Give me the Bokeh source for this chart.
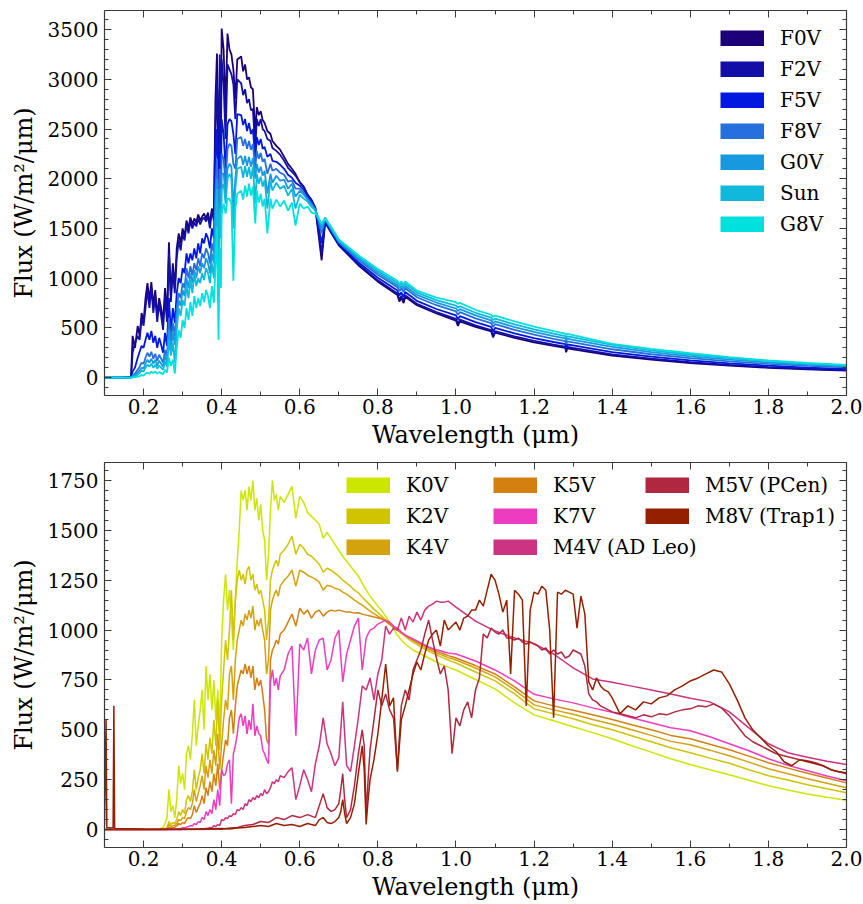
from bokeh.plotting import figure
from bokeh.models import (Range1d, LinearAxis, FixedTicker, PrintfTickFormatter,
                          Legend, LegendItem)
from bokeh.layouts import column
from bokeh.embed import file_html
from bokeh.resources import INLINE

FONT = "DejaVu Serif"
AX_COLOR = "#3a3a3a"

# ---------------- tick definitions ----------------
x_major = [0.2, 0.4, 0.6, 0.8, 1.0, 1.2, 1.4, 1.6, 1.8, 2.0]
x_minor = [0.1, 0.2, 0.3, 0.4, 0.5, 0.6, 0.7, 0.8, 0.9, 1.0, 1.1, 1.2, 1.3, 1.4,
           1.5, 1.6, 1.7, 1.8, 1.9, 2.0]
top_y_major = [0, 500, 1000, 1500, 2000, 2500, 3000, 3500]
top_y_minor = list(range(-100, 3700, 100))
bot_y_major = [0, 250, 500, 750, 1000, 1250, 1500, 1750]
bot_y_minor = list(range(-50, 1850, 50))

# ---------------- top panel data (F and G stars) ----------------
top_names = ["F0V", "F2V", "F5V", "F8V", "G0V", "Sun", "G8V"]
top_colors = ["#1b0077", "#120ea6", "#0018e0", "#2670de", "#1898de", "#10b8dc", "#00e0dc"]

wl_top = [0.10, 0.15, 0.168, 0.172, 0.178, 0.185,
          0.19, 0.195, 0.20, 0.205, 0.21, 0.215, 0.22, 0.225, 0.23, 0.235,
          0.24, 0.245, 0.25, 0.255, 0.26, 0.265, 0.27, 0.275, 0.28, 0.285,
          0.29, 0.295, 0.30, 0.305, 0.31, 0.315, 0.32, 0.325, 0.33, 0.335,
          0.34, 0.345, 0.35, 0.355, 0.36, 0.365, 0.37, 0.375, 0.38,
          0.384, 0.388, 0.392, 0.395, 0.398, 0.40, 0.405, 0.41, 0.415, 0.42,
          0.425, 0.43, 0.435, 0.44, 0.45, 0.455, 0.46, 0.465, 0.47, 0.475,
          0.48, 0.486, 0.49, 0.495, 0.50, 0.505, 0.51, 0.517, 0.525, 0.53,
          0.54, 0.55, 0.56, 0.57, 0.58, 0.589, 0.60, 0.61, 0.62, 0.63,
          0.64, 0.656, 0.665, 0.68, 0.70,
          0.75, 0.80, 0.85, 0.855, 0.86, 0.866, 0.87, 0.90, 0.95, 1.00,
          1.005, 1.01, 1.05, 1.09, 1.095, 1.10, 1.15, 1.20, 1.25, 1.28,
          1.282, 1.285, 1.30, 1.40, 1.50, 1.60, 1.70, 1.80, 1.90, 2.00]

f0v = [0, 2, 10, 420, 300, 520,
       420, 650, 560, 800, 950, 780, 960, 720, 880, 620,
       800, 700, 560, 900, 620, 1360, 820, 1150, 900, 1300,
       1450, 1350, 1500, 1420, 1580, 1500, 1610, 1540, 1600, 1560,
       1640, 1580, 1620, 1650, 1600, 1660, 1550, 1700, 1620,
       2790, 3260, 2200, 2900, 2500, 3510, 3300, 2700, 3460, 3300,
       3250, 3100, 2800, 3200, 3230, 3080, 3150, 3000, 3020, 2920,
       2900, 2450, 2720, 2640, 2680, 2590, 2560, 2480, 2450, 2380,
       2330, 2290, 2220, 2150, 2100, 2050, 1960, 1920, 1830, 1780,
       1700, 1180, 1560, 1460, 1330,
       1130, 965, 830, 765, 805, 750, 812, 728, 645, 573,
       520, 566, 510, 466, 405, 452, 400, 355, 318, 298,
       255, 294, 285, 222, 180, 146, 120, 99, 83, 70]
f2v = [0, 1, 5, 250, 350, 420,
       380, 600, 520, 700, 880, 700, 900, 650, 820, 560,
       750, 620, 480, 820, 560, 1250, 760, 1080, 850, 1200,
       1380, 1280, 1450, 1380, 1540, 1450, 1580, 1500, 1560, 1520,
       1600, 1540, 1590, 1610, 1570, 1620, 1500, 1680, 1580,
       2500, 3000, 1900, 3250, 2300, 3200, 2950, 2400, 3150, 3100,
       3050, 2950, 2600, 3000, 2960, 2840, 2900, 2760, 2800, 2690,
       2700, 2300, 2600, 2530, 2600, 2500, 2480, 2400, 2380, 2310,
       2280, 2240, 2180, 2110, 2070, 2030, 1970, 1920, 1840, 1790,
       1710, 1250, 1570, 1470, 1340,
       1140, 978, 845, 785, 822, 770, 828, 742, 660, 590,
       545, 583, 525, 478, 425, 468, 415, 370, 332, 312,
       270, 308, 298, 234, 190, 155, 128, 106, 89, 76]
f5v = [0, 0, 2, 60, 100, 200,
       260, 320, 300, 380, 450, 380, 470, 350, 420, 300,
       400, 330, 250, 450, 320, 800, 450, 700, 550, 850,
       1000, 950, 1100, 1050, 1250, 1150, 1250, 1180, 1300, 1200,
       1350, 1250, 1400, 1350, 1450, 1400, 1300, 1500, 1400,
       2200, 2500, 1700, 2300, 1900, 2600, 2450, 2100, 2550, 2600,
       2580, 2450, 2250, 2650, 2640, 2540, 2600, 2480, 2560, 2450,
       2500, 2200, 2420, 2340, 2400, 2300, 2320, 2220, 2250, 2180,
       2170, 2140, 2100, 2040, 2010, 1960, 1930, 1890, 1820, 1770,
       1700, 1350, 1580, 1480, 1350,
       1160, 1005, 875, 825, 858, 810, 860, 772, 690, 625,
       585, 618, 558, 510, 462, 500, 445, 398, 358, 337,
       300, 333, 323, 256, 210, 173, 144, 120, 101, 88]
f8v = [0, 0, 1, 20, 40, 80,
       110, 150, 140, 200, 250, 210, 260, 190, 240, 170,
       230, 190, 150, 280, 200, 600, 350, 550, 420, 700,
       850, 800, 950, 900, 1100, 1000, 1120, 1030, 1150, 1080,
       1200, 1120, 1250, 1200, 1300, 1250, 1150, 1350, 1250,
       1900, 2200, 1500, 2100, 1700, 2250, 2200, 1950, 2300, 2350,
       2330, 2150, 2100, 2400, 2420, 2330, 2400, 2300, 2380, 2290,
       2350, 2100, 2280, 2200, 2260, 2170, 2200, 2050, 2150, 2080,
       2100, 2060, 2040, 1970, 1980, 1900, 1900, 1860, 1800, 1750,
       1690, 1450, 1590, 1490, 1360,
       1185, 1035, 910, 870, 895, 860, 898, 808, 728, 665,
       632, 658, 596, 548, 508, 537, 480, 432, 390, 368,
       340, 365, 354, 285, 235, 196, 164, 138, 117, 102]
g0v = [0, 0, 1, 10, 25, 50,
       70, 100, 90, 140, 180, 150, 190, 140, 180, 120,
       170, 140, 110, 220, 150, 480, 280, 450, 330, 600,
       780, 720, 880, 820, 1000, 900, 1050, 950, 1080, 1000,
       1120, 1050, 1150, 1100, 1200, 1150, 1050, 1250, 1150,
       1700, 2000, 1300, 1900, 1550, 2050, 2050, 1850, 2100, 2150,
       2120, 1700, 2000, 2200, 2230, 2140, 2230, 2130, 2220, 2120,
       2210, 2000, 2150, 2060, 2120, 2030, 2080, 1850, 2050, 1960,
       2030, 1980, 1990, 1900, 1950, 1820, 1880, 1840, 1790, 1740,
       1690, 1500, 1600, 1500, 1370,
       1200, 1055, 932, 900, 920, 890, 922, 832, 755, 695,
       670, 688, 625, 576, 545, 566, 508, 460, 417, 394,
       372, 391, 380, 308, 256, 214, 180, 152, 130, 112]
sun = [0, 0, 0, 5, 15, 30,
       45, 70, 60, 100, 130, 110, 140, 100, 130, 90,
       120, 100, 80, 160, 110, 380, 220, 350, 150, 480,
       700, 620, 780, 720, 920, 800, 980, 850, 1050, 920,
       1000, 950, 1050, 980, 1100, 1050, 950, 1150, 1000,
       1400, 1900, 1100, 1700, 1400, 1900, 1950, 1750, 2000, 2050,
       2000, 1500, 1900, 2100, 2120, 2010, 2130, 2020, 2120, 2000,
       2120, 1750, 2050, 1950, 2020, 1920, 1990, 1700, 1980, 1880,
       1960, 1900, 1930, 1830, 1900, 1700, 1840, 1800, 1770, 1720,
       1680, 1530, 1610, 1510, 1380,
       1215, 1075, 955, 925, 945, 915, 945, 855, 780, 725,
       705, 718, 652, 603, 578, 593, 535, 486, 442, 418,
       400, 415, 404, 330, 274, 230, 195, 165, 141, 121]
g8v = [0, 0, 0, 2, 5, 10,
       15, 25, 20, 40, 50, 40, 60, 45, 60, 40,
       55, 45, 35, 80, 50, 200, 120, 180, 40, 300,
       480, 400, 580, 500, 700, 580, 760, 620, 820, 700,
       800, 720, 850, 760, 880, 820, 700, 920, 750,
       1100, 1500, 380, 1300, 900, 1650, 1750, 1650, 1800, 1800,
       1750, 975, 1700, 1850, 1880, 1790, 1930, 1820, 1950, 1830,
       1920, 1550, 1880, 1760, 1850, 1720, 1800, 1450, 1800, 1700,
       1790, 1720, 1780, 1680, 1760, 1530, 1750, 1700, 1720, 1660,
       1650, 1550, 1600, 1520, 1390,
       1230, 1093, 975, 945, 965, 938, 966, 875, 805, 758,
       742, 752, 682, 632, 612, 623, 566, 513, 468, 442,
       428, 440, 428, 340, 288, 245, 205, 172, 147, 127]
top_series = [f0v, f2v, f5v, f8v, g0v, sun, g8v]

# ---------------- bottom panel data (K and M stars) ----------------
bot_names = ["K0V", "K2V", "K4V", "K5V", "K7V", "M4V (AD Leo)", "M5V (PCen)", "M8V (Trap1)"]
bot_colors = ["#cde600", "#d0c400", "#d4a20c", "#d48010", "#ee3cc0", "#cc3380", "#b02840", "#952000"]

wl_k = [0.10, 0.20, 0.24, 0.25,
        0.255, 0.26, 0.265, 0.27, 0.275, 0.28, 0.285, 0.29, 0.295, 0.30,
        0.305, 0.31, 0.315, 0.32, 0.325, 0.33, 0.335, 0.34, 0.345, 0.35,
        0.355, 0.36, 0.365, 0.37, 0.375, 0.38, 0.385, 0.39, 0.395, 0.40,
        0.405, 0.41, 0.415, 0.42, 0.425, 0.43, 0.435, 0.44, 0.445, 0.45,
        0.455, 0.46, 0.465, 0.47, 0.475, 0.48, 0.485, 0.49, 0.495, 0.50,
        0.505, 0.51, 0.515, 0.52, 0.525, 0.53, 0.535, 0.54, 0.545, 0.55,
        0.56, 0.57, 0.58, 0.59, 0.60, 0.61, 0.62, 0.63, 0.64, 0.65,
        0.66, 0.67, 0.68, 0.69, 0.70, 0.71, 0.72, 0.73, 0.74, 0.75,
        0.76, 0.77, 0.78, 0.79, 0.80, 0.81, 0.82, 0.83, 0.84, 0.85,
        0.86, 0.87, 0.88, 0.89, 0.90, 0.91, 0.92, 0.93, 0.94, 0.95,
        0.96, 0.97, 0.98, 0.99, 1.00,
        1.05, 1.10, 1.15, 1.20, 1.25, 1.30, 1.35, 1.40, 1.45, 1.50,
        1.55, 1.60, 1.65, 1.70, 1.75, 1.80, 1.85, 1.90, 1.95, 2.00]

k0v = [0, 0, 3, 10,
       30, 60, 200, 90, 120, 60, 150, 320, 230, 280,
       200, 380, 420, 350, 480, 650, 420, 520, 600, 700,
       500, 820, 650, 780, 600, 750, 550, 700, 500, 950,
       1150, 1280, 1100, 1200, 1050, 900, 1150, 1350, 1500, 1700,
       1650, 1700, 1600, 1720, 1650, 1750, 1600, 1660, 1550, 1630,
       1500, 1450, 1250, 1380, 1600, 1750, 1650, 1680, 1600, 1670,
       1640, 1680, 1720, 1560, 1670, 1640, 1590, 1570, 1550, 1530,
       1460, 1490, 1460, 1430, 1400, 1370, 1345, 1320, 1295, 1270,
       1235, 1200, 1170, 1145, 1120, 1095, 1070, 1040, 1005, 975,
       950, 930, 915, 900, 890, 880, 870, 860, 850, 840,
       830, 822, 814, 806, 800,
       752, 705, 635, 575, 545, 515, 486, 455, 420, 388,
       355, 326, 300, 275, 247, 220, 198, 178, 162, 147]
k2v = [0, 0, 1, 3,
       5, 10, 40, 25, 35, 30, 50, 90, 70, 100,
       80, 150, 170, 140, 190, 300, 200, 260, 300, 380,
       280, 430, 350, 460, 380, 550, 420, 650, 400, 650,
       800, 950, 850, 1000, 1200, 950, 1150, 1250, 1300, 1250,
       1280, 1230, 1300, 1320, 1250, 1280, 1200, 1230, 1180, 1200,
       1150, 1100, 950, 1050, 1250, 1300, 1330, 1350, 1320, 1380,
       1400, 1430, 1470, 1380, 1430, 1410, 1380, 1370, 1350, 1330,
       1290, 1310, 1300, 1285, 1270, 1250, 1235, 1220, 1200, 1187,
       1165, 1145, 1125, 1105, 1087, 1070, 1050, 1035, 1018, 1003,
       985, 968, 952, 940, 928, 916, 905, 895, 885, 876,
       867, 858, 850, 842, 835,
       790, 745, 680, 605, 580, 555, 525, 500, 470, 440,
       410, 385, 358, 332, 300, 270, 248, 225, 205, 184]
k4v = [0, 0, 0, 2,
       3, 5, 25, 15, 20, 20, 30, 50, 45, 60,
       55, 90, 110, 100, 130, 200, 140, 180, 220, 270,
       200, 320, 260, 350, 280, 400, 320, 480, 300, 430,
       550, 650, 600, 780, 820, 650, 850, 950, 1000, 1050,
       1020, 1080, 1050, 1100, 1060, 1120, 1000, 1050, 1020, 1060,
       1000, 950, 780, 850, 1100, 1150, 1180, 1200, 1170, 1220,
       1250, 1270, 1300, 1220, 1300, 1290, 1275, 1265, 1255, 1240,
       1200, 1225, 1220, 1210, 1204, 1190, 1180, 1165, 1150, 1137,
       1125, 1110, 1095, 1082, 1070, 1058, 1045, 1030, 1015, 1000,
       985, 972, 960, 948, 936, 925, 915, 905, 895, 886,
       878, 870, 862, 856, 850,
       810, 765, 700, 625, 600, 578, 552, 528, 500, 472,
       442, 425, 398, 370, 338, 305, 280, 255, 232, 209]
k5v = [0, 0, 0, 0,
       1, 2, 10, 8, 10, 12, 18, 30, 25, 35,
       30, 50, 60, 55, 75, 120, 85, 110, 130, 170,
       130, 210, 170, 240, 190, 280, 220, 330, 200, 300,
       380, 450, 420, 560, 600, 480, 620, 720, 760, 800,
       780, 830, 780, 820, 760, 820, 700, 760, 720, 750,
       680, 600, 450, 430, 850, 900, 920, 950, 930, 980,
       1000, 1040, 1080, 1020, 1110, 1080, 1100, 1060, 1090, 1100,
       1070, 1090, 1100, 1095, 1100, 1095, 1090, 1090, 1085, 1087,
       1080, 1075, 1070, 1065, 1062, 1055, 1045, 1030, 1015, 1000,
       988, 975, 963, 952, 942, 932, 922, 912, 903, 895,
       887, 880, 872, 866, 860,
       822, 780, 715, 645, 620, 598, 575, 552, 525, 500,
       472, 455, 428, 400, 368, 335, 308, 282, 258, 234]
k7v = [0, 0, 0, 0,
       0, 0, 1, 1, 2, 2, 3, 4, 4, 10,
       8, 12, 15, 20, 18, 30, 25, 40, 35, 60,
       50, 90, 70, 100, 80, 150, 100, 200, 120, 300,
       270, 280, 330, 350, 130, 380, 420, 480, 560, 580,
       520, 570, 480, 550, 500, 630, 470, 520, 480, 470,
       400, 380, 350, 330, 740, 800, 720, 760, 700, 770,
       800, 880, 920, 470, 930, 900, 960, 780, 900, 950,
       960, 800, 850, 960, 1000, 740, 880, 950, 1020, 1060,
       800, 960, 1000, 1010, 1030, 1040, 1050, 1040, 1020, 1010,
       990, 975, 965, 955, 945, 935, 925, 915, 908, 902,
       896, 890, 885, 882, 880,
       845, 800, 745, 678, 655, 635, 610, 588, 560, 535,
       510, 495, 465, 430, 395, 355, 322, 295, 268, 245]
m4v = [0, 0, 0, 0,
       0, 0, 0, 0, 0, 0, 0, 0, 0, 1,
       1, 1, 1, 2, 2, 2, 2, 3, 3, 4,
       4, 5, 6, 10, 8, 20, 15, 25, 20, 50,
       45, 60, 55, 70, 65, 80, 75, 100, 95, 110,
       100, 130, 120, 150, 140, 160, 150, 170, 160, 180,
       170, 200, 180, 190, 210, 240, 230, 250, 240, 270,
       260, 290, 310, 150, 220, 300, 250, 190, 330, 420,
       560, 430, 380, 320, 360, 640, 320, 290, 420, 560,
       720, 700, 760, 650, 780, 850, 1020, 980, 1010, 1000,
       1060, 1000, 1070, 1040, 1090, 1050, 1100, 1120, 1130, 1145,
       1140, 1140, 1145, 1130, 1115,
       1045, 995, 960, 932, 880, 810, 755, 738, 719, 700,
       680, 658, 640, 590, 510, 430, 385, 362, 342, 326]

wl_m = [0.100, 0.104, 0.106, 0.122, 0.124, 0.126, 0.20, 0.30, 0.40,
        0.42, 0.44, 0.46, 0.48, 0.50, 0.52, 0.54, 0.56, 0.58, 0.60,
        0.62, 0.64, 0.65, 0.66, 0.67, 0.68, 0.69, 0.70, 0.705, 0.71,
        0.715, 0.72, 0.73, 0.74, 0.75, 0.76, 0.765, 0.77, 0.775, 0.78,
        0.79, 0.80, 0.81, 0.82, 0.83, 0.84, 0.85, 0.86, 0.87, 0.88,
        0.89, 0.90, 0.91, 0.92, 0.93, 0.94, 0.95, 0.96, 0.97, 0.98,
        0.99, 1.00, 1.01, 1.02, 1.03, 1.04, 1.05, 1.06, 1.07, 1.08,
        1.09, 1.10, 1.11, 1.12, 1.13, 1.14, 1.15, 1.16, 1.17, 1.18,
        1.19, 1.20, 1.21, 1.22, 1.23, 1.24, 1.25, 1.26, 1.27, 1.28,
        1.29, 1.30, 1.31, 1.32, 1.33, 1.34, 1.35, 1.36, 1.37, 1.38,
        1.39, 1.40, 1.42, 1.44, 1.46, 1.48, 1.50, 1.52, 1.54, 1.56,
        1.58, 1.60, 1.62, 1.64, 1.66, 1.68, 1.70, 1.72, 1.74, 1.76,
        1.78, 1.80, 1.82, 1.84, 1.86, 1.88, 1.90, 1.92, 1.94, 1.96,
        1.98, 2.00]
m5v = [0, 0, 0, 0, 0, 0, 0, 0, 2,
       8, 10, 20, 25, 40, 35, 60, 50, 70, 60,
       75, 60, 120, 180, 110, 90, 100, 130, 200, 280,
       150, 60, 100, 220, 380, 500, 420, 80, 250, 400,
       550, 700, 620, 680, 600, 560, 300, 620, 700, 650,
       800, 850, 900, 980, 1050, 950, 860, 780, 820, 700,
       380, 560, 520, 600, 640, 560, 700, 760, 980, 960,
       1010, 990, 980, 1000, 960, 960, 950, 960, 940, 930,
       940, 930, 920, 900, 910, 880, 900, 880, 890, 860,
       870, 900, 890, 880, 820, 680, 650, 640, 620, 610,
       600, 590, 580, 570, 560, 575, 565, 580, 575, 590,
       600, 605, 620, 615, 630, 610, 570, 520, 470, 440,
       420, 400, 380, 370, 360, 350, 345, 335, 320, 300,
       290, 280]
m8v = [20, 550, 10, 8, 620, 5, 3, 2, 5,
       3, 8, 10, 15, 20, 15, 30, 20, 25, 15,
       30, 20, 50, 60, 35, 30, 40, 60, 90, 150,
       80, 30, 60, 130, 280, 420, 300, 25, 150, 250,
       350, 480, 650, 830, 620, 660, 290, 550, 620, 700,
       780, 840, 800, 880, 950, 980, 1000, 920, 1050, 1000,
       1020, 1040, 1000, 1060, 1070, 1100, 1100, 1150, 1120, 1200,
       1280, 1250, 1180, 1090, 1150, 780, 1200, 1180, 1150, 620,
       1100, 1190, 1180, 1220, 1200, 1000, 560, 1190, 1180, 1200,
       1190, 1180, 1010, 1170, 1080, 740, 700, 760, 720, 700,
       690, 660, 580, 620, 600, 640, 630, 660, 670, 700,
       720, 745, 760, 780, 800, 790, 730, 650, 560, 500,
       460, 420, 390, 340, 320, 350, 340, 330, 320, 300,
       290, 285]
bot_series = [(wl_k, k0v), (wl_k, k2v), (wl_k, k4v), (wl_k, k5v), (wl_k, k7v),
              (wl_k, m4v), (wl_m, m5v), (wl_m, m8v)]

# ---------------- layout parameters ----------------
FRAME_W, FRAME_H = 742, 385
ROW_H, ROW_SP = 24, 7


def make_panel(y_start, y_end, y_major, y_minor, border_top):
    p = figure(frame_width=FRAME_W, frame_height=FRAME_H,
               x_range=Range1d(0.1, 2.0), y_range=Range1d(y_start, y_end),
               output_backend="svg", toolbar_location=None,
               min_border_left=104, min_border_right=16,
               min_border_top=border_top, min_border_bottom=0,
               background_fill_color="white", border_fill_color="white")
    p.outline_line_color = None
    p.xgrid.visible = False
    p.ygrid.visible = False
    p.add_layout(LinearAxis(), "above")
    p.add_layout(LinearAxis(), "right")
    for ax in p.xaxis:
        ax.ticker = FixedTicker(ticks=x_major, minor_ticks=x_minor)
        ax.formatter = PrintfTickFormatter(format="%.1f")
    for ax in p.yaxis:
        ax.ticker = FixedTicker(ticks=y_major, minor_ticks=y_minor)
    for ax in list(p.xaxis) + list(p.yaxis):
        ax.axis_line_color = AX_COLOR
        ax.axis_line_width = 1.2
        ax.major_tick_line_color = AX_COLOR
        ax.minor_tick_line_color = AX_COLOR
        ax.major_tick_in = 7
        ax.major_tick_out = 0
        ax.minor_tick_in = 4
        ax.minor_tick_out = 0
        ax.major_label_text_font = FONT
        ax.major_label_text_font_size = "20px"
        ax.major_label_text_color = "black"
        ax.major_label_standoff = 3
        ax.axis_label_text_font = FONT
        ax.axis_label_text_font_size = "24px"
        ax.axis_label_text_font_style = "normal"
        ax.axis_label_text_color = "black"
    for ax in (p.above[0], p.right[0]):
        ax.major_label_text_font_size = "1px"
        ax.major_label_text_color = None
        ax.major_label_standoff = 0
    p.below[0].axis_label = "Wavelength (μm)"
    p.below[0].axis_label_standoff = 4
    p.left[0].axis_label = "Flux (W/m²/μm)"
    p.left[0].axis_label_standoff = 7
    p.left[0].major_label_standoff = 6
    return p


def add_legend(p, names, colors, series, x_left, top_off, pad):
    items = []
    for n, c, (xs, ys) in zip(names, colors, series):
        # hidden thick copy of the series, used only as the legend swatch
        r = p.line(xs, ys, line_color=c, line_width=16, line_cap="butt", visible=False)
        items.append(LegendItem(label=n, renderers=[r]))
    h = 2 * pad + len(names) * ROW_H + (len(names) - 1) * ROW_SP
    lg = Legend(items=items, location=(x_left - pad, FRAME_H - (top_off - pad) - h),
                orientation="vertical", glyph_width=44, glyph_height=16,
                label_height=ROW_H, label_width=10, spacing=ROW_SP, padding=pad,
                margin=0, label_standoff=16, label_text_font=FONT,
                label_text_font_size="20px", label_text_color="black",
                background_fill_alpha=0, border_line_alpha=0,
                inactive_fill_alpha=0)
    p.add_layout(lg)


# ---------------- top panel ----------------
p1 = make_panel(-180, 3692, top_y_major, top_y_minor, 10)
for ys, c in zip(top_series, top_colors):
    p1.line(wl_top, ys, line_color=c, line_width=1.8)
add_legend(p1, top_names, top_colors, [(wl_top, s) for s in top_series], 616, 16, 5)

# ---------------- bottom panel ----------------
p2 = make_panel(-90, 1840, bot_y_major, bot_y_minor, 11)
for (xs, ys), c in zip(bot_series, bot_colors):
    p2.line(xs, ys, line_color=c, line_width=1.5)
add_legend(p2, bot_names[0:3], bot_colors[0:3], bot_series[0:3], 242, 11, 4)
add_legend(p2, bot_names[3:6], bot_colors[3:6], bot_series[3:6], 389, 11, 4)
add_legend(p2, bot_names[6:8], bot_colors[6:8], bot_series[6:8], 541, 11, 4)

layout = column(p1, p2)
open("out.html", "w").write(file_html(layout, INLINE))
